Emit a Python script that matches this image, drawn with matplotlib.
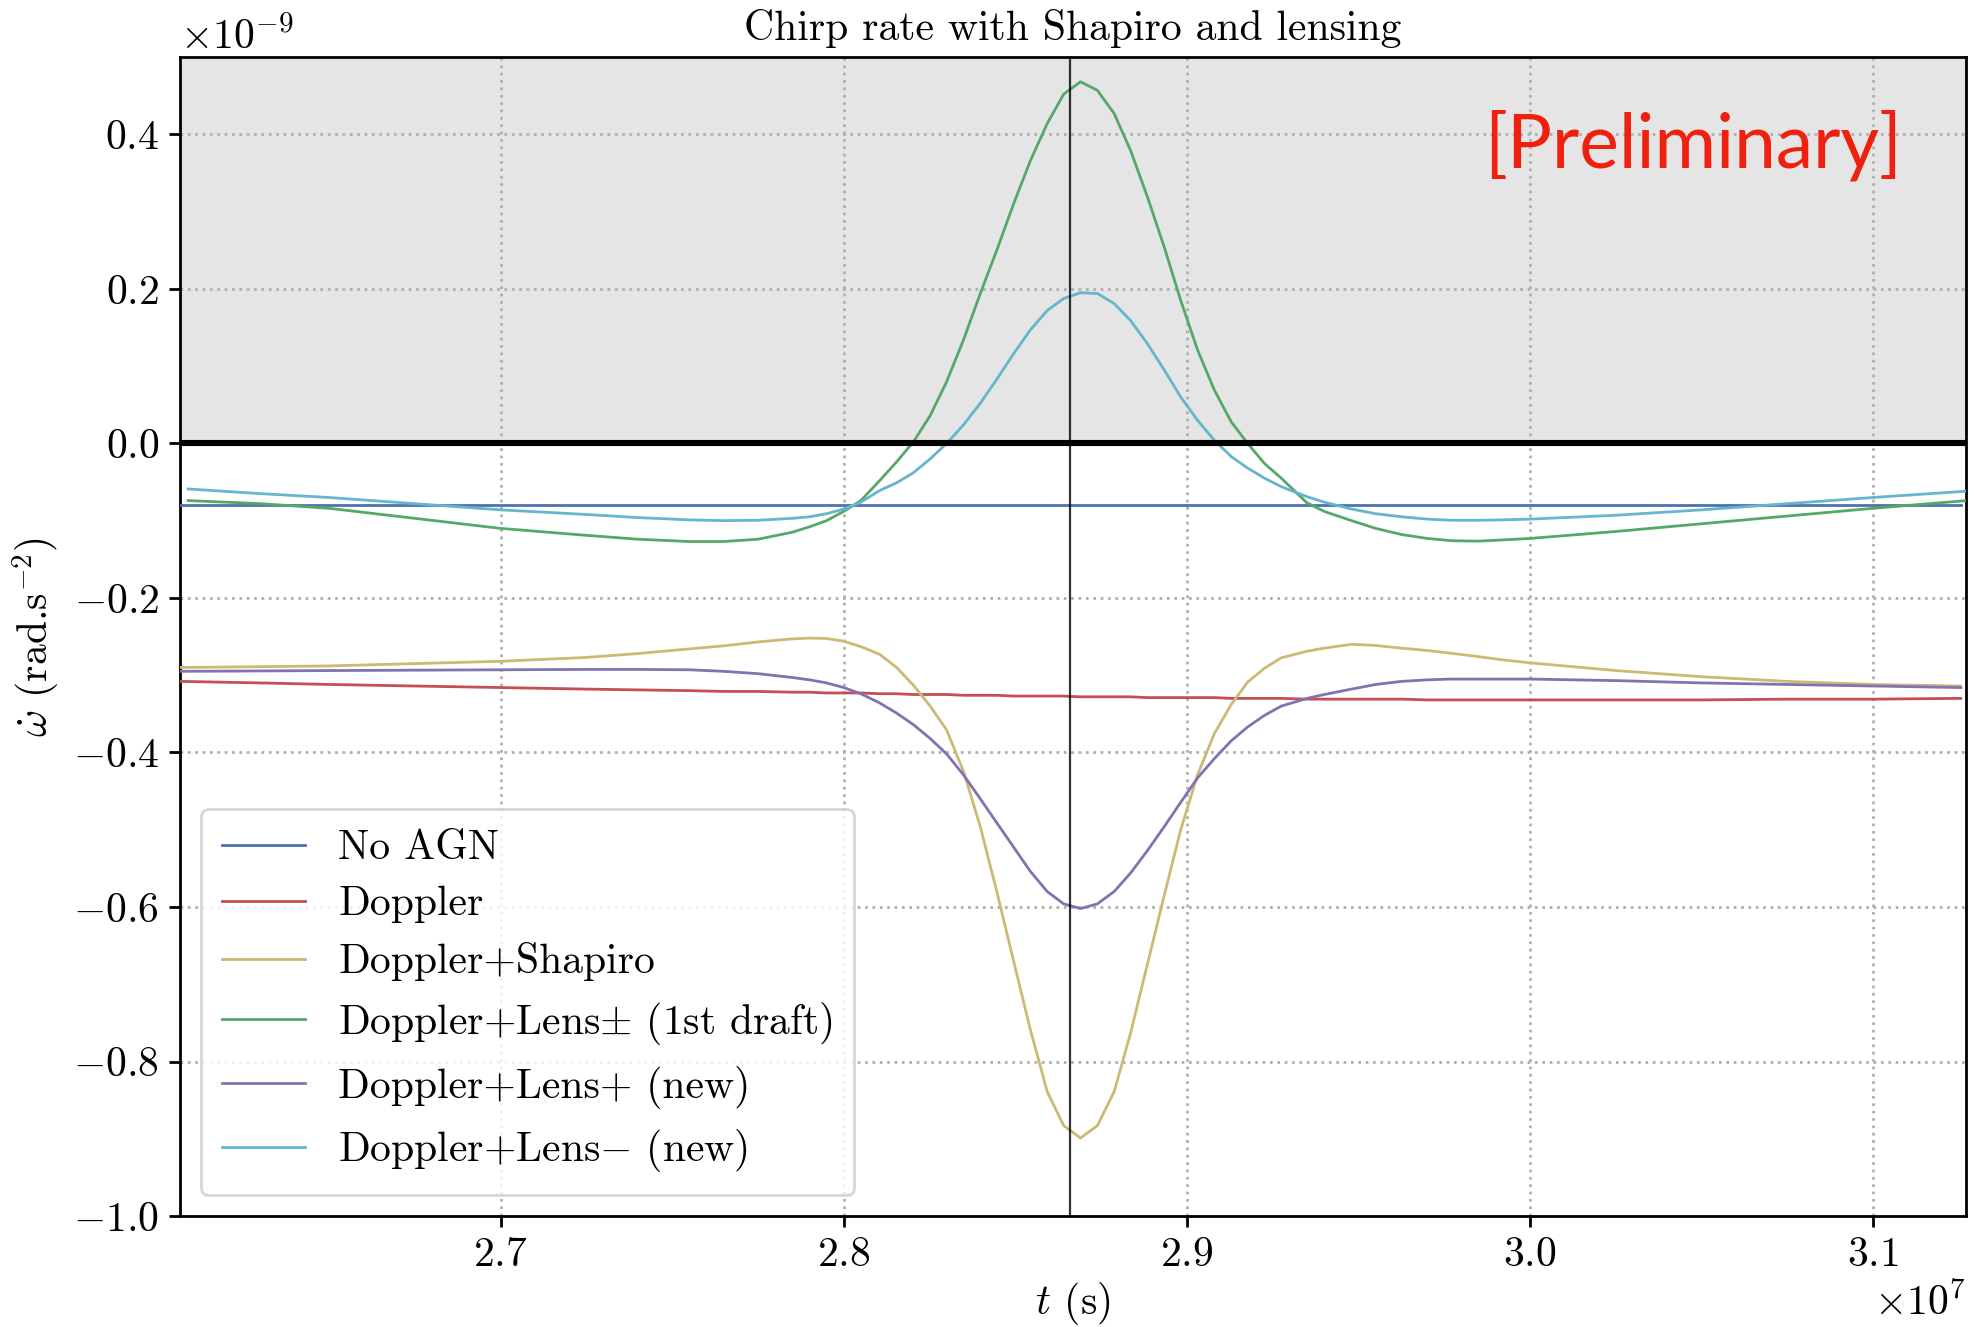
import numpy as np
import matplotlib
matplotlib.use("Agg")
import matplotlib.pyplot as plt

plt.rcParams["font.family"] = ["cmr10", "DejaVu Serif"]
plt.rcParams["mathtext.fontset"] = "cm"
plt.rcParams["axes.formatter.use_mathtext"] = True
plt.rcParams["axes.unicode_minus"] = True

# time samples (units of 1e7 s)
t_left = [2.6066, 2.63, 2.65, 2.675, 2.70, 2.725, 2.74, 2.755, 2.765, 2.775,
          2.785, 2.79, 2.795, 2.80, 2.805]
t_mid = [2.8105, 2.8154, 2.8203, 2.8252, 2.830, 2.8349, 2.8398, 2.8446, 2.8495, 2.8544,
         2.8593, 2.8641, 2.869, 2.8739, 2.8788, 2.8836, 2.8885, 2.8934, 2.8982, 2.9031,
         2.908, 2.9129, 2.9177, 2.9226, 2.9275]
t_right = [2.935, 2.94, 2.948, 2.955, 2.9626, 2.97, 2.9772, 2.985, 2.9918, 3.00,
           3.025, 3.05, 3.075, 3.10, 3.1255]
t_main = t_left + t_mid + t_right
# the lensed runs are sampled on a slightly shifted span
t_lens = [2.609] + t_left[1:] + t_mid + t_right[:-1] + [3.13]

# chirp rate series (units of 1e-9 rad/s^2)
no_agn = [-0.0796] * 55
doppler = [-0.308, -0.310, -0.312, -0.314, -0.316, -0.318, -0.319, -0.320, -0.321, -0.321,
           -0.322, -0.322, -0.323, -0.323, -0.323,
           -0.324, -0.324, -0.325, -0.325, -0.325, -0.326, -0.326, -0.326, -0.327, -0.327,
           -0.327, -0.327, -0.328, -0.328, -0.328, -0.328, -0.329, -0.329, -0.329, -0.329,
           -0.329, -0.330, -0.330, -0.330, -0.330,
           -0.331, -0.331, -0.331, -0.331, -0.331, -0.332, -0.332, -0.332, -0.332, -0.332,
           -0.332, -0.332, -0.331, -0.331, -0.330]
doppler_shapiro = [-0.290, -0.289, -0.288, -0.285, -0.282, -0.277, -0.272, -0.266, -0.262, -0.257,
                   -0.253, -0.252, -0.2525, -0.256, -0.263,
                   -0.273, -0.290, -0.313, -0.340, -0.371, -0.4245, -0.496, -0.580, -0.670, -0.759,
                   -0.839, -0.883, -0.899, -0.883, -0.839, -0.763, -0.674, -0.585, -0.500, -0.429,
                   -0.3755, -0.338, -0.309, -0.291, -0.2775,
                   -0.269, -0.265, -0.260, -0.2615, -0.265, -0.268, -0.2717, -0.276, -0.280, -0.284,
                   -0.294, -0.302, -0.308, -0.312, -0.314]
lens_draft = [-0.074, -0.078, -0.084, -0.097, -0.110, -0.119, -0.124, -0.127, -0.127, -0.124,
              -0.115, -0.108, -0.100, -0.088, -0.074,
              -0.048, -0.024, 0.002, 0.036, 0.080, 0.134, 0.194, 0.250, 0.310, 0.366,
              0.414, 0.452, 0.468, 0.457, 0.427, 0.379, 0.319, 0.254, 0.185, 0.121,
              0.069, 0.028, 0.000, -0.026, -0.045,
              -0.077, -0.088, -0.100, -0.110, -0.118, -0.123, -0.126, -0.1265, -0.125, -0.123,
              -0.114, -0.104, -0.094, -0.084, -0.073]
lens_plus = [-0.295, -0.2945, -0.294, -0.2935, -0.293, -0.2925, -0.2925, -0.293, -0.295, -0.298,
             -0.303, -0.306, -0.310, -0.316, -0.324,
             -0.336, -0.349, -0.364, -0.382, -0.402, -0.429, -0.460, -0.491, -0.5225, -0.554,
             -0.580, -0.596, -0.602, -0.596, -0.580, -0.556, -0.527, -0.496, -0.4645, -0.433,
             -0.408, -0.385, -0.367, -0.352, -0.340,
             -0.330, -0.325, -0.318, -0.312, -0.308, -0.306, -0.305, -0.305, -0.305, -0.305,
             -0.307, -0.310, -0.312, -0.314, -0.316]
lens_minus = [-0.059, -0.065, -0.070, -0.078, -0.086, -0.092, -0.096, -0.099, -0.100, -0.0995,
              -0.097, -0.095, -0.091, -0.085, -0.076,
              -0.061, -0.051, -0.038, -0.020, 0.000, 0.024, 0.052, 0.083, 0.116, 0.147,
              0.172, 0.1875, 0.195, 0.194, 0.181, 0.159, 0.129, 0.095, 0.060, 0.030,
              0.004, -0.017, -0.032, -0.045, -0.056,
              -0.069, -0.076, -0.085, -0.091, -0.095, -0.098, -0.0995, -0.0995, -0.099, -0.098,
              -0.093, -0.086, -0.078, -0.070, -0.061]

labels = ["No AGN", "Doppler", "Doppler+Shapiro", r"Doppler+Lens$\pm$ (1st draft)",
          "Doppler+Lens+ (new)", r"Doppler+Lens$-$ (new)"]
colors = ["#4C72B0", "#C44E52", "#CCB974", "#55A868", "#8172B2", "#64B5CD"]

t_peak = 2.866

fig = plt.figure(figsize=(9.88, 6.635), dpi=200)
ax = fig.add_axes([0.0911, 0.0836, 0.9038, 0.8734])

series = [(t_main, no_agn), (t_main, doppler), (t_main, doppler_shapiro),
          (t_lens, lens_draft), (t_main, lens_plus), (t_lens, lens_minus)]
for (tt, yy), lab, col in zip(series, labels, colors):
    ax.plot(np.array(tt) * 1e7, np.array(yy) * 1e-9, color=col, lw=1.0, label=lab,
            zorder=3, solid_joinstyle="round")

ax.axhspan(0, 0.5e-9, color="#E5E5E5", zorder=0, lw=0)
ax.axhline(0, color="black", lw=2.2, zorder=4)
ax.axvline(t_peak * 1e7, color="black", lw=0.8, alpha=0.8, zorder=4)

ax.set_xlim(2.6066e7, 3.127e7)
ax.set_ylim(-1.0e-9, 0.5e-9)
ax.set_axisbelow(True)
ax.grid(True, linestyle=":", color="#b0b0b0", lw=1.0)

ax.set_title("Chirp rate with Shapiro and lensing", fontsize=15, pad=6)
ax.set_xlabel(r"$t$ (s)", fontsize=15, labelpad=2)
ax.set_ylabel(r"$\dot{\omega}$ (rad.s$^{-2}$)", fontsize=15)
ax.tick_params(labelsize=15, length=4, width=1)
ax.xaxis.get_offset_text().set_fontsize(15)
ax.yaxis.get_offset_text().set_fontsize(15)
for s in ax.spines.values():
    s.set_color("black")
    s.set_linewidth(1.0)

ax.text(0.847, 0.924, "[Preliminary]", transform=ax.transAxes, color="#F0200F",
        fontsize=27, family="Lato", ha="center", va="center", zorder=5)

leg = ax.legend(loc="lower left", fontsize=15, frameon=True, fancybox=True,
                handlelength=2.0, borderpad=0.5, labelspacing=0.45)
leg.get_frame().set_edgecolor("#cccccc")

fig.savefig("out.png", dpi=200)
